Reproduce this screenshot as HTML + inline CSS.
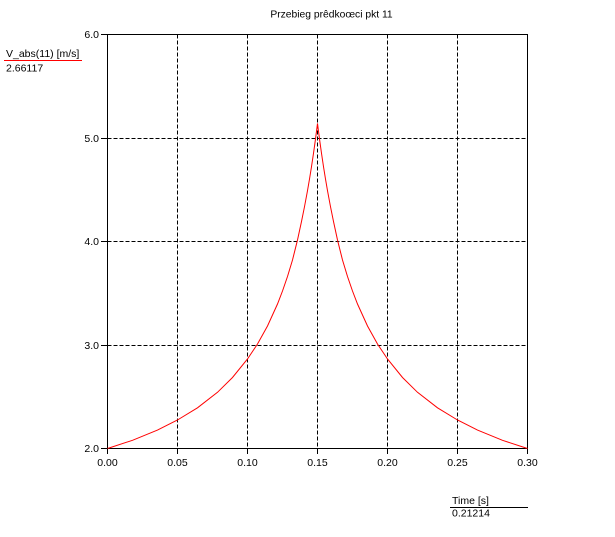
<!DOCTYPE html>
<html>
<head>
<meta charset="utf-8">
<style>
  html, body { margin: 0; padding: 0; background: #ffffff; }
  svg { display: block; }
  text { font-family: "Liberation Sans", Arial, sans-serif; fill: #000; }
</style>
</head>
<body>
<svg width="615" height="537" viewBox="0 0 615 537" xmlns="http://www.w3.org/2000/svg">
  <rect x="0" y="0" width="615" height="537" fill="#ffffff"/>

  <!-- Title -->
  <text x="331.5" y="17.5" font-size="10.3" text-anchor="middle">Przebieg prêdkoœci pkt 11</text>

  <!-- Grid (dashed) -->
  <g stroke="#000" stroke-width="1" stroke-dasharray="4,2" shape-rendering="crispEdges" fill="none">
    <line x1="107.5" y1="138.5" x2="527.5" y2="138.5"/>
    <line x1="107.5" y1="241.5" x2="527.5" y2="241.5"/>
    <line x1="107.5" y1="345.5" x2="527.5" y2="345.5"/>
    <line x1="177.5" y1="34.5" x2="177.5" y2="448.5"/>
    <line x1="247.5" y1="34.5" x2="247.5" y2="448.5"/>
    <line x1="317.5" y1="34.5" x2="317.5" y2="448.5"/>
    <line x1="387.5" y1="34.5" x2="387.5" y2="448.5"/>
    <line x1="457.5" y1="34.5" x2="457.5" y2="448.5"/>
  </g>

  <!-- Frame -->
  <g stroke="#000" stroke-width="1" shape-rendering="crispEdges" fill="none">
    <rect x="107.5" y="34.5" width="420" height="414"/>
    <!-- y ticks -->
    <line x1="101" y1="34.5" x2="107.5" y2="34.5"/>
    <line x1="101" y1="138.5" x2="107.5" y2="138.5"/>
    <line x1="101" y1="241.5" x2="107.5" y2="241.5"/>
    <line x1="101" y1="345.5" x2="107.5" y2="345.5"/>
    <line x1="101" y1="448.5" x2="107.5" y2="448.5"/>
    <!-- x ticks -->
    <line x1="107.5" y1="448.5" x2="107.5" y2="454"/>
    <line x1="177.5" y1="448.5" x2="177.5" y2="454"/>
    <line x1="247.5" y1="448.5" x2="247.5" y2="454"/>
    <line x1="317.5" y1="448.5" x2="317.5" y2="454"/>
    <line x1="387.5" y1="448.5" x2="387.5" y2="454"/>
    <line x1="457.5" y1="448.5" x2="457.5" y2="454"/>
    <line x1="527.5" y1="448.5" x2="527.5" y2="454"/>
  </g>

  <!-- Y tick labels -->
  <g font-size="10.5" text-anchor="end">
    <text x="99" y="38">6.0</text>
    <text x="99" y="142">5.0</text>
    <text x="99" y="245">4.0</text>
    <text x="99" y="349">3.0</text>
    <text x="99" y="452">2.0</text>
  </g>

  <!-- X tick labels -->
  <g font-size="10.5" text-anchor="middle">
    <text x="107.5" y="466">0.00</text>
    <text x="177.5" y="466">0.05</text>
    <text x="247.5" y="466">0.10</text>
    <text x="317.5" y="466">0.15</text>
    <text x="387.5" y="466">0.20</text>
    <text x="457.5" y="466">0.25</text>
    <text x="527.5" y="466">0.30</text>
  </g>

  <!-- Series -->
  <polyline fill="none" stroke="#ff0000" stroke-width="1" stroke-linejoin="miter"
    points="107.5,448.5 132.5,440.3 157.5,430.1 177.5,420 197.5,407.8 217.5,392.3 232.5,377.5 247.5,359 257.5,344 267.5,326 277.5,304 282.5,291 287.5,276.5 292.5,260 297.5,240 301.5,221.5 304.5,206.7 307.5,190.7 309.5,179.1 311.5,166.7 313.5,153.3 315.5,139 317.5,123.4 319.5,139 321.5,153.3 323.5,166.7 325.5,179.1 327.5,190.7 330.5,206.7 333.5,221.5 337.5,240 342.5,260 347.5,276.5 352.5,291 357.5,304 367.5,326 377.5,344 387.5,359 402.5,377.5 417.5,392.3 437.5,407.8 457.5,420 477.5,430.1 502.5,440.3 527.5,448.5"/>

  <!-- Y legend (top-left) -->
  <text x="6" y="57" font-size="10.5">V_abs(11) [m/s]</text>
  <line x1="4" y1="60.5" x2="82" y2="60.5" stroke="#ff0000" stroke-width="1" shape-rendering="crispEdges"/>
  <text x="6" y="71.5" font-size="10.5">2.66117</text>

  <!-- X legend (bottom-right) -->
  <text x="452" y="504" font-size="10.5">Time [s]</text>
  <line x1="450" y1="507.5" x2="528" y2="507.5" stroke="#000" stroke-width="1" shape-rendering="crispEdges"/>
  <text x="452" y="516.5" font-size="10.5">0.21214</text>
</svg>
</body>
</html>
